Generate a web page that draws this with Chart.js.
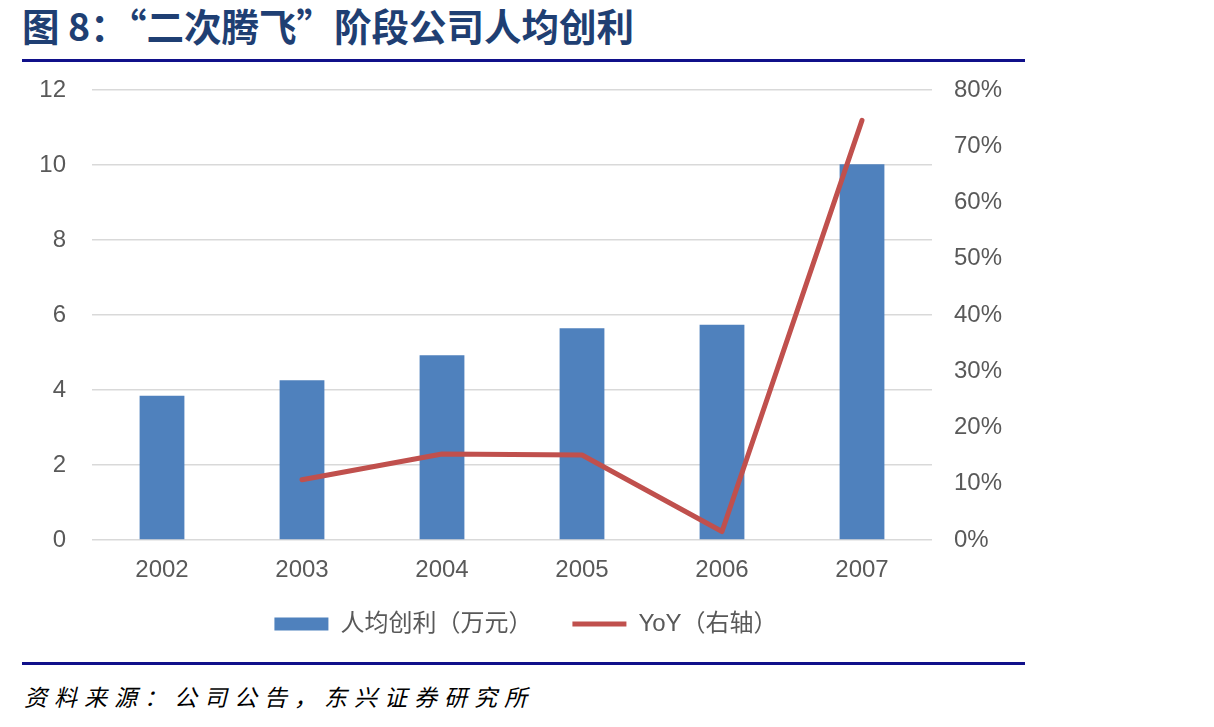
<!DOCTYPE html>
<html>
<head>
<meta charset="utf-8">
<script src="https://cdn.jsdelivr.net/npm/chart.js@4.4.1/dist/chart.umd.min.js"></script>
<style>
  html, body { margin: 0; padding: 0; background: #fff; }
  body { width: 1214px; height: 727px; position: relative; overflow: hidden; }
  .title {
    position: absolute; left: 22px; top: 2px;
    font-family: "Noto Sans CJK SC", sans-serif; font-weight: 700;
    font-size: 37.5px; line-height: 46px; color: #1F3F73; white-space: nowrap;
  }
  .rule { position: absolute; left: 22px; width: 1003px; height: 3px; background: #10108A; }
  .rule.top { top: 59px; }
  .rule.bottom { top: 662px; }
  .source {
    position: absolute; left: 24px; top: 680px;
    font-family: "Noto Sans CJK SC", sans-serif; font-style: italic;
    font-size: 23px; line-height: 32px; letter-spacing: 7px; color: #000; white-space: nowrap;
  }
  #chart { position: absolute; left: 0; top: 62px; }
</style>
</head>
<body>
<div class="title">图 8：“二次腾飞”阶段公司人均创利</div>
<div class="rule top"></div>
<canvas id="chart" width="1052" height="598"></canvas>
<div class="rule bottom"></div>
<div class="source">资料来源：公司公告，东兴证券研究所</div>
<script>
const years = ['2002', '2003', '2004', '2005', '2006', '2007'];
const profitPerHead = [3.85, 4.26, 4.93, 5.65, 5.74, 10.02];
const yoyPct = [null, 10.7, 15.3, 15.1, 1.5, 74.6];
const leftTicks = [0, 2, 4, 6, 8, 10, 12];
const rightTicks = [0, 10, 20, 30, 40, 50, 60, 70, 80];

const FONT = '"Liberation Sans", "Noto Sans CJK SC", Arial, sans-serif';
const GREY = '#595959';

// fixed axis box size, without the extra label padding Chart.js adds
const fixWidth = w => s => { s.width = w; s.paddingTop = 0; s.paddingBottom = 0; };

new Chart(document.getElementById('chart'), {
  type: 'bar',
  data: {
    labels: years,
    datasets: [
      {
        label: '人均创利（万元）',
        data: profitPerHead,
        backgroundColor: '#4F81BD',
        borderWidth: 0,
        barPercentage: 0.32,
        categoryPercentage: 1,
        yAxisID: 'y',
        pointStyle: 'rect',
        order: 1,
      },
      {
        type: 'line',
        label: 'YoY（右轴）',
        data: yoyPct,
        borderColor: '#C0504D',
        backgroundColor: '#C0504D',
        borderWidth: 5,
        borderCapStyle: 'round',
        borderJoinStyle: 'round',
        pointRadius: 0,
        pointStyle: 'line',
        tension: 0,
        yAxisID: 'y1',
        order: 0,
      },
    ],
  },
  options: {
    responsive: false,
    animation: false,
    devicePixelRatio: 1,
    layout: { padding: { top: 28, bottom: 14, left: 0, right: 0 } },
    plugins: {
      tooltip: { enabled: false },
      legend: {
        position: 'bottom',
        labels: {
          usePointStyle: true,
          pointStyleWidth: 54,
          boxHeight: 13,
          padding: 40,
          color: GREY,
          font: { family: FONT, size: 24 },
          sort: (a, b) => a.datasetIndex - b.datasetIndex,
        },
      },
    },
    scales: {
      x: {
        grid: { display: false, drawTicks: false },
        border: { display: false },
        ticks: { color: GREY, font: { family: FONT, size: 24 }, padding: 16 },
        afterFit: s => {
          s.height = 32;
          // let the year labels run past the short axis box
          s._computeLabelArea = () => undefined;
        },
      },
      y: {
        position: 'left',
        min: leftTicks[0],
        max: leftTicks[leftTicks.length - 1],
        afterBuildTicks: s => { s.ticks = leftTicks.map(v => ({ value: v })); },
        grid: { color: '#D9D9D9', lineWidth: 1.5, drawTicks: false },
        border: { display: false },
        ticks: { color: GREY, font: { family: FONT, size: 24 }, padding: 26 },
        afterFit: fixWidth(92),
      },
      y1: {
        position: 'right',
        min: rightTicks[0],
        max: rightTicks[rightTicks.length - 1],
        afterBuildTicks: s => { s.ticks = rightTicks.map(v => ({ value: v })); },
        grid: { display: false, drawTicks: false },
        border: { display: false },
        ticks: { color: GREY, font: { family: FONT, size: 24 }, padding: 22, callback: v => v + '%' },
        afterFit: fixWidth(120),
      },
    },
  },
});
</script>
</body>
</html>
